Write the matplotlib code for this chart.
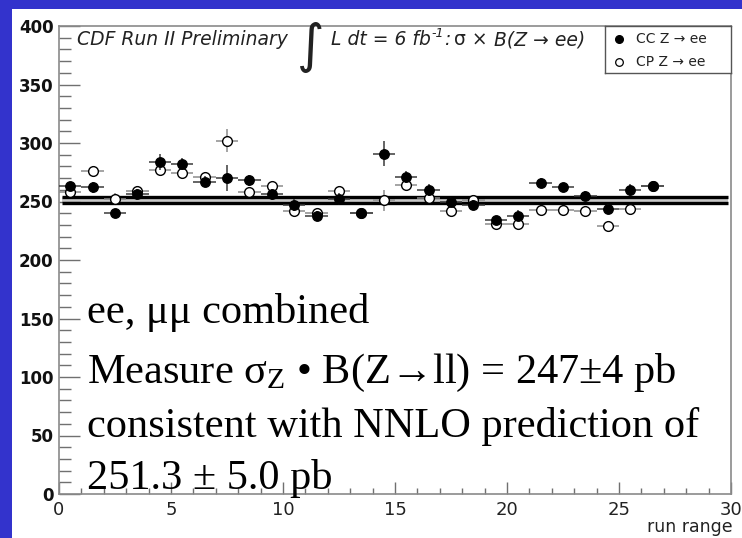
import matplotlib
matplotlib.use("Agg")
import matplotlib.pyplot as plt
from matplotlib.patches import Rectangle
from matplotlib.ticker import MultipleLocator
import numpy as np

# ---- data -------------------------------------------------------------
run_range = np.arange(27) + 0.5
cc_xsec = [263, 262, 240, 256, 284, 282, 267, 270, 268, 256, 247, 238, 252, 240,
           291, 271, 260, 250, 247, 234, 238, 266, 262, 255, 244, 260, 263]
cc_err = [4, 5, 4, 5, 7, 5, 5, 11, 5, 5, 5, 4, 5, 4,
          11, 5, 5, 4, 4, 4, 5, 4, 4, 4, 4, 5, 4]
cp_xsec = [258, 276, 252, 259, 277, 274, 271, 302, 258, 263, 242, 240, 259, 240,
           251, 264, 253, 242, 251, 231, 231, 243, 243, 242, 229, 244, 263]
cp_err = [4, 4, 5, 4, 4, 4, 4, 10, 4, 4, 4, 4, 4, 4,
          9, 4, 4, 4, 4, 4, 4, 4, 4, 4, 4, 4, 4]
bin_halfwidth = 0.5
band_edges = [248.5, 253.5]
band_xrange = [0.15, 29.85]
x_ticks = [0, 5, 10, 15, 20, 25, 30]
y_ticks = [0, 50, 100, 150, 200, 250, 300, 350, 400]

W, H = 742, 538
SANS = ["DejaVu Sans"]
SERIF = ["Liberation Serif", "DejaVu Serif"]

plt.rcParams["mathtext.fontset"] = "custom"
plt.rcParams["mathtext.rm"] = "Liberation Serif"
plt.rcParams["mathtext.it"] = "Liberation Serif:italic"


def fx(x):
    return x / W


def fy(y):
    return 1 - y / H


fig = plt.figure(figsize=(W / 100, H / 100), dpi=100)
fig.patch.set_facecolor("#3333cc")
fig.patches.append(Rectangle((fx(12), 0), 1 - fx(12), fy(9), transform=fig.transFigure,
                             facecolor="white", edgecolor="none", zorder=-10))

ax = fig.add_axes([fx(59), fy(494), fx(731) - fx(59), fy(26) - fy(494)])
ax.set_zorder(2)
ax.set_facecolor("white")
ax.set_xlim(0, 30)
ax.set_ylim(0, 400)
ax.set_xticks(x_ticks)
ax.set_yticks(y_ticks)
ax.xaxis.set_minor_locator(MultipleLocator(1))
ax.yaxis.set_minor_locator(MultipleLocator(10))
tick_col = "#707070"
ax.tick_params(axis="y", which="major", direction="in", length=15, width=1.0,
               color=tick_col, labelsize=12, pad=4, labelcolor="#111111")
ax.tick_params(axis="y", which="minor", direction="in", length=8.5, width=1.0, color=tick_col)
ax.tick_params(axis="x", which="major", direction="in", length=8.5, width=1.0,
               color=tick_col, labelsize=13, pad=5, labelcolor="#222222")
ax.tick_params(axis="x", which="minor", direction="in", length=4.3, width=1.0, color=tick_col)
for lab in ax.get_yticklabels():
    lab.set_fontweight("bold")
    lab.set_family(SANS)
for lab in ax.get_xticklabels():
    lab.set_family(SANS)
for s in ax.spines.values():
    s.set_color("#8a8a8a")
    s.set_linewidth(1.2)

# combined measurement band
ax.fill_between(band_xrange, band_edges[0], band_edges[1], color="#c8c8c8", lw=0, zorder=1)
for yb in band_edges:
    ax.plot(band_xrange, [yb, yb], color="black", lw=2.4, solid_capstyle="butt", zorder=2)

# CP (open) then CC (filled) points
ax.errorbar(run_range, cp_xsec, yerr=cp_err, xerr=bin_halfwidth, fmt="o", ms=7.0,
            mfc="white", mec="black", mew=1.0, ecolor="#8c8c8c", elinewidth=1.1,
            capsize=0, zorder=3)
ax.errorbar(run_range, cc_xsec, yerr=cc_err, xerr=bin_halfwidth, fmt="o", ms=6.8,
            mfc="black", mec="black", mew=1.0, ecolor="#3a3a3a", elinewidth=1.1,
            capsize=0, zorder=4)

fig.text(fx(733), fy(532), "run range", ha="right", va="baseline", fontsize=12.5,
         family=SANS, color="#222222", zorder=5)

# header: CDF Run II Preliminary  ∫ L dt = 6 fb^-1 : σ × B(Z → ee)
renderer = fig.canvas.get_renderer()
base = 45
pieces = [
    ("CDF Run II Preliminary", dict(fontsize=13.5, style="italic"), 0, 9),
    ("\u222b", dict(fontsize=38), 17, 7),
    ("L dt = 6 fb", dict(fontsize=13.5, style="italic"), 0, 0),
    ("-1", dict(fontsize=9, style="italic"), -8, 0),
    (":", dict(fontsize=13.5, style="italic"), 0, 4),
    ("\u03c3 \u00d7 ", dict(fontsize=13.5), 0, 0),
    ("B(Z \u2192 ee)", dict(fontsize=13.5, style="italic"), 0, 0),
]
xcur = 77
for txt, kw, dy, gap in pieces:
    t = fig.text(fx(xcur), fy(base + dy), txt, va="baseline", ha="left",
                 family=SANS, color="#222222", zorder=5, **kw)
    bb = t.get_window_extent(renderer)
    xcur = bb.x1 + gap

# legend box
ax_leg = fig.add_axes([fx(605), fy(73), fx(731) - fx(605), fy(26) - fy(73)])
ax_leg.set_zorder(3)
ax_leg.set_xlim(605, 731)
ax_leg.set_ylim(73, 26)
ax_leg.set_xticks([])
ax_leg.set_yticks([])
for s in ax_leg.spines.values():
    s.set_color("#555555")
    s.set_linewidth(1.0)
ax_leg.plot([619], [39], "o", ms=5.5, mfc="black", mec="black")
ax_leg.plot([619], [62], "o", ms=5.5, mfc="white", mec="black", mew=0.9)
ax_leg.text(636, 43.5, "CC Z \u2192 ee", fontsize=10, family=SANS, color="#222222", va="baseline")
ax_leg.text(636, 66.5, "CP Z \u2192 ee", fontsize=10, family=SANS, color="#222222", va="baseline")

# summary text
summary = [
    ("ee, \u03bc\u03bc combined", 323),
    ("Measure $\\mathrm{\\sigma_{Z}}$ \u2022 B(Z\u2192ll) = 247\u00b14 pb", 383),
    ("consistent with NNLO prediction of", 437),
    ("251.3 \u00b1 5.0 pb", 489),
]
for line, yb in summary:
    fig.text(fx(87), fy(yb), line, fontsize=30.5, family=SERIF, color="black",
             va="baseline", ha="left", zorder=5)

fig.savefig("out.png", dpi=100, facecolor=fig.get_facecolor())
